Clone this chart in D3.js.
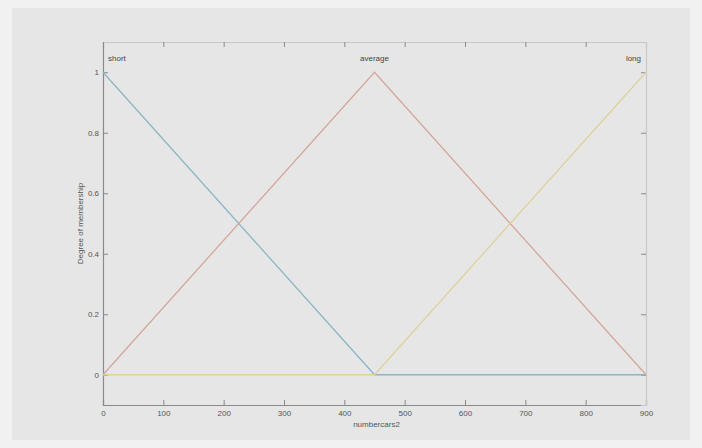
<!DOCTYPE html>
<html>
<head>
<meta charset="utf-8">
<script src="https://cdn.jsdelivr.net/npm/d3@7"></script>
<style>
  html, body { margin: 0; padding: 0; background: #f1f1f1; }
  svg { display: block; }
  text { font-family: "Liberation Sans", Arial, sans-serif; fill: #555; }
</style>
</head>
<body>
<svg id="chart" width="702" height="448"></svg>
<script>
// Membership functions for the input variable numbercars2
const xBreaks = [0, 450, 900];
const mfNames = ["short", "average", "long"];
const shortVals = [1, 0, 0];
const averageVals = [0, 1, 0];
const longVals = [0, 0, 1];
const xTicks = [0, 100, 200, 300, 400, 500, 600, 700, 800, 900];
const yTicks = [0, 0.2, 0.4, 0.6, 0.8, 1];
const mfColors = ["#8cb6c6", "#d3a898", "#ddd29a"];
const fontStack = "Liberation Sans, Arial, sans-serif";

const svg = d3.select("#chart");
const box = { left: 103, right: 646, top: 42, bottom: 405 };

// figure background
svg.append("rect").attr("x", 12).attr("y", 8)
  .attr("width", 678).attr("height", 432).attr("fill", "#e6e6e6");

const x = d3.scaleLinear().domain([0, 900]).range([box.left, box.right]);
const y = d3.scaleLinear().domain([-0.1, 1.1]).range([box.bottom, box.top]);

svg.append("defs").append("filter").attr("id", "soft")
  .append("feGaussianBlur").attr("stdDeviation", 0.45);

const axisColor = "#8a8a8a";
const tickLen = 5;

// bottom axis with inward ticks
const gx = svg.append("g").attr("transform", `translate(0,${box.bottom})`)
  .call(d3.axisBottom(x).tickValues(xTicks).tickSize(-tickLen).tickPadding(5).tickFormat(d3.format("d")));
// left axis with inward ticks
const gy = svg.append("g").attr("transform", `translate(${box.left},0)`)
  .call(d3.axisLeft(y).tickValues(yTicks).tickSize(-tickLen).tickPadding(4)
    .tickFormat(d => d === 0 || d === 1 ? d3.format("d")(d) : d3.format(".1f")(d)));
// mirrored top and right axes
const gt = svg.append("g").attr("transform", `translate(0,${box.top})`)
  .call(d3.axisTop(x).tickValues(xTicks).tickSize(-tickLen).tickFormat(""));
const gr = svg.append("g").attr("transform", `translate(${box.right},0)`)
  .call(d3.axisRight(y).tickValues(yTicks).tickSize(-tickLen).tickFormat(""));

[gx, gy, gt, gr].forEach(g => {
  g.select(".domain").attr("stroke", axisColor).attr("stroke-width", 1.2);
  g.selectAll(".tick line").attr("stroke", axisColor);
  g.selectAll(".tick text").attr("font-size", 8).style("fill", "#555")
    .attr("font-family", fontStack);
});
gt.select(".domain").attr("stroke", "#c8c8c8");
gr.select(".domain").attr("stroke", "#c8c8c8");

// membership curves
const series = [shortVals, averageVals, longVals];
const line = d3.line().x(d => x(d[0])).y(d => y(d[1]));
series.forEach((vals, i) => {
  svg.append("path")
    .attr("d", line(xBreaks.map((b, j) => [b, vals[j]])))
    .attr("fill", "none")
    .attr("stroke", mfColors[i])
    .attr("stroke-width", 1.3)
    .attr("filter", "url(#soft)");
});

// curve names above their peaks
const anchors = ["start", "middle", "end"];
const dx = [5, 0, -5];
mfNames.forEach((name, i) => {
  const peak = xBreaks[series[i].indexOf(1)];
  svg.append("text")
    .attr("x", x(peak) + dx[i]).attr("y", 61)
    .attr("text-anchor", anchors[i])
    .attr("font-size", 8)
    .style("fill", "#444")
    .text(name);
});

// axis titles
svg.append("text").attr("x", x(450) + 2).attr("y", 427)
  .attr("text-anchor", "middle").attr("font-size", 8).text("numbercars2");
svg.append("text")
  .attr("transform", `translate(83,${(box.top + box.bottom) / 2}) rotate(-90)`)
  .attr("text-anchor", "middle").attr("font-size", 8).text("Degree of membership");
</script>
</body>
</html>
